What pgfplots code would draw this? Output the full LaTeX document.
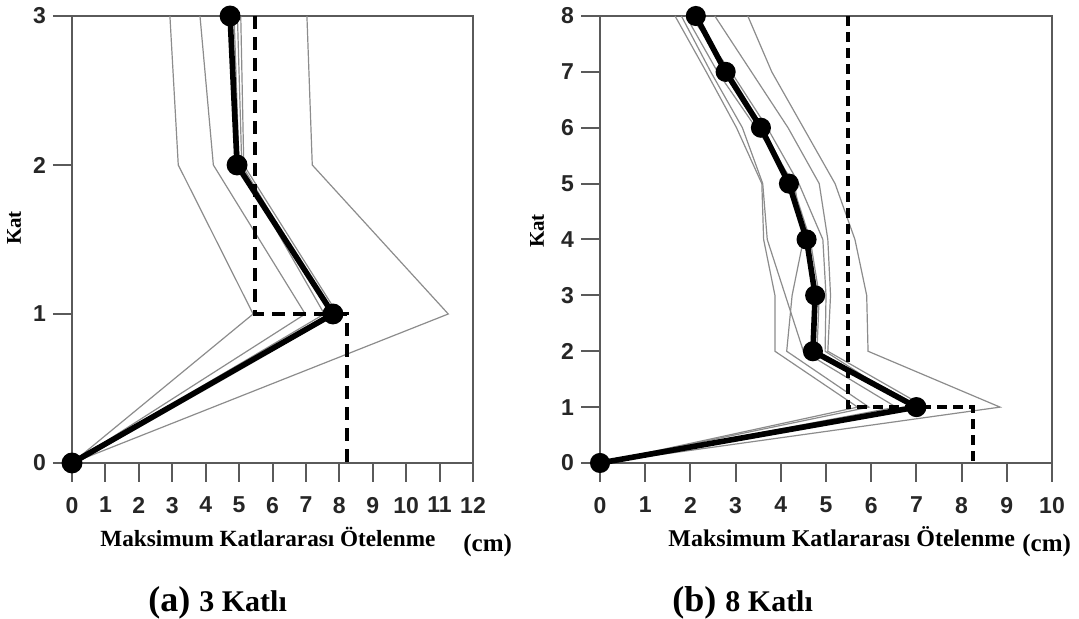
\documentclass[border=0pt]{standalone}
\usepackage{pgfplots}
\pgfplotsset{compat=1.18}
\usepackage{fontspec}
\setmainfont{Liberation Serif}
\setsansfont{Liberation Sans}
\definecolor{axgray}{HTML}{5A5A5A}
\definecolor{lgray}{HTML}{8C8C8C}
\pgfplotsset{
  myax/.style={
    scale only axis, height=223.5pt, clip=false,
    axis line style={draw=axgray, line width=1pt},
    tick style={draw=axgray, line width=1pt},
    tick align=outside, major tick length=9.5pt,
    xtick pos=lower, ytick pos=left,
    ticklabel style={font=\sffamily\bfseries\fontsize{11.5}{13}\selectfont, text=black!85},
    xticklabel style={yshift=-4pt},
    /pgf/number format/assume math mode=true,
    xmin=0, ymin=0,
  },
  gl/.style={draw=lgray, line width=0.6pt, no marks},
  ml/.style={draw=black, line width=2.8pt, mark=*, mark size=3.8pt, mark options={fill=black}},
  dl/.style={draw=black, line width=2pt, dash pattern=on 6.5pt off 4pt, no marks},
}
\begin{document}
\begin{tikzpicture}
\useasboundingbox (0,0) rectangle (539.5pt,309.5pt);
% ---------- (a) 3 Katli ----------
\begin{axis}[myax, at={(36pt,78pt)}, anchor=south west, width=200.5pt,
  xmax=12, ymax=3, xtick={0,...,12}, ytick={0,1,2,3}]
\addplot[gl] coordinates {(0,0) (5.42,1) (3.18,2) (2.93,3)};
\addplot[gl] coordinates {(0,0) (6.98,1) (4.23,2) (3.83,3)};
\addplot[gl] coordinates {(0,0) (11.26,1) (7.19,2) (7.03,3)};
\addplot[gl] coordinates {(0,0) (7.55,1) (5.00,2) (4.85,3)};
\addplot[gl] coordinates {(0,0) (7.75,1) (5.08,2) (4.95,3)};
\addplot[gl] coordinates {(0,0) (7.95,1) (5.14,2) (5.05,3)};
\addplot[dl] coordinates {(5.48,3) (5.48,1) (8.23,1) (8.23,0)};
\addplot[ml] coordinates {(0,0) (7.81,1) (4.94,2) (4.73,3)};
\end{axis}
% ---------- (b) 8 Katli ----------
\begin{axis}[myax, at={(300pt,78pt)}, anchor=south west, width=226pt,
  xmax=10, ymax=8, xtick={0,...,10}, ytick={0,...,8}]
\addplot[gl] coordinates {(0,0) (5.70,1) (3.87,2) (3.87,3) (3.62,4) (3.58,5) (3.02,6) (2.35,7) (1.66,8)};
\addplot[gl] coordinates {(0,0) (5.95,1) (4.13,2) (4.25,3) (4.50,4) (4.30,5) (3.45,6) (2.60,7) (1.90,8)};
\addplot[gl] coordinates {(0,0) (6.55,1) (4.50,2) (4.10,3) (3.70,4) (3.60,5) (3.15,6) (2.45,7) (1.80,8)};
\addplot[gl] coordinates {(0,0) (6.90,1) (4.98,2) (5.00,3) (4.93,4) (4.40,5) (3.70,6) (2.90,7) (2.00,8)};
\addplot[gl] coordinates {(0,0) (7.20,1) (5.04,2) (5.10,3) (5.04,4) (4.85,5) (4.16,6) (3.35,7) (2.54,8)};
\addplot[gl] coordinates {(0,0) (7.10,1) (4.80,2) (4.85,3) (4.65,4) (4.25,5) (3.60,6) (2.85,7) (2.06,8)};
\addplot[gl] coordinates {(0,0) (8.85,1) (5.93,2) (5.90,3) (5.64,4) (5.20,5) (4.50,6) (3.80,7) (3.27,8)};
\addplot[dl, line width=1.7pt, dash pattern=on 5pt off 3pt] coordinates {(5.49,8) (5.49,1) (8.25,1) (8.25,0)};
\addplot[ml, mark size=3.6pt] coordinates {(0,0) (7.00,1) (4.71,2) (4.76,3) (4.57,4) (4.18,5) (3.56,6) (2.78,7) (2.12,8)};
\end{axis}
% ---------- labels ----------
\node[rotate=90, font=\bfseries\fontsize{10.5}{12}\selectfont] at (7pt,195.5pt) {Kat};
\node[rotate=90, font=\bfseries\fontsize{10.5}{12}\selectfont] at (268.5pt,194pt) {Kat};
\node[anchor=west, font=\bfseries\fontsize{11.6}{14}\selectfont, inner sep=0pt] at (50pt,41pt) {Maksimum Katlararası Ötelenme};
\node[anchor=west, font=\bfseries\fontsize{12.5}{14}\selectfont, inner sep=0pt] at (231.5pt,37pt) {(cm)};
\node[anchor=west, font=\bfseries\fontsize{12}{14}\selectfont, inner sep=0pt] at (334pt,41pt) {Maksimum Katlararası Ötelenme};
\node[anchor=west, font=\bfseries\fontsize{12.5}{14}\selectfont, inner sep=0pt] at (511pt,37pt) {(cm)};
\node[anchor=west, inner sep=0pt] at (74pt,8pt) {\bfseries\fontsize{18}{19}\selectfont (a)\ \fontsize{15}{17}\selectfont 3 Katlı};
\node[anchor=west, inner sep=0pt] at (336pt,8pt) {\bfseries\fontsize{18}{19}\selectfont (b)\ \fontsize{15}{17}\selectfont 8 Katlı};
\end{tikzpicture}
\end{document}
